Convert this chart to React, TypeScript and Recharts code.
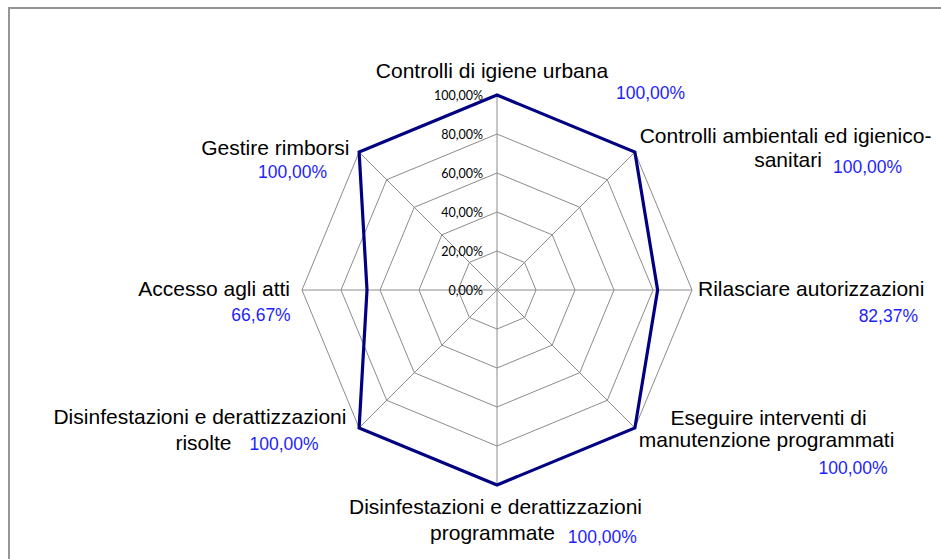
import React from 'react';
import { RadarChart, Radar, PolarGrid, PolarAngleAxis, PolarRadiusAxis } from 'recharts';

const categories = [
  'Controlli di igiene urbana',
  'Controlli ambientali ed igienico-sanitari',
  'Rilasciare autorizzazioni',
  'Eseguire interventi di manutenzione programmati',
  'Disinfestazioni e derattizzazioni programmate',
  'Disinfestazioni e derattizzazioni risolte',
  'Accesso agli atti',
  'Gestire rimborsi',
];

const categoryLines = [
  ['Controlli di igiene urbana'],
  ['Controlli ambientali ed igienico-', 'sanitari'],
  ['Rilasciare autorizzazioni'],
  ['Eseguire interventi di', 'manutenzione programmati'],
  ['Disinfestazioni e derattizzazioni', 'programmate'],
  ['Disinfestazioni e derattizzazioni', 'risolte'],
  ['Accesso agli atti'],
  ['Gestire rimborsi'],
];

const values = [1, 1, 0.8237, 1, 1, 1, 0.6667, 1];

const radiusTicks = [0, 0.2, 0.4, 0.6, 0.8, 1];

const data = categories.map((name, i) => ({ name, value: values[i] }));

const fmt = (v: number) => (v * 100).toFixed(2).replace('.', ',') + '%';

type Place = [number, number, 'start' | 'middle' | 'end'];

// offsets of the label texts relative to each angle-axis tick point
const namePlaces: Place[][] = [
  [[-5, -9, 'middle']],
  [[145, -3.5, 'middle'], [147.5, 20.5, 'middle']],
  [[-2, 6, 'start']],
  [[128, -8.5, 'middle'], [126, 13, 'middle']],
  [[-1.5, 21.3, 'middle'], [-4.5, 47, 'middle']],
  [[-153.5, -10, 'middle'], [-150, 16, 'middle']],
  [[-4, 6, 'end']],
  [[-4, 8.5, 'end']],
];

const valuePlaces: Place[] = [
  [119, 12, 'start'],
  [192.5, 26.5, 'start'],
  [218, 31.5, 'end'],
  [178, 40, 'start'],
  [70.7, 49.7, 'start'],
  [-104, 16.5, 'start'],
  [-3.3, 31, 'end'],
  [-95.5, 32, 'start'],
];

const AngleTick = (props: any) => {
  const { x, y, index } = props;
  const lines = categoryLines[index];
  const places = namePlaces[index];
  const vp = valuePlaces[index];
  return (
    <g>
      {lines.map((t, k) => (
        <text
          key={k}
          x={x + places[k][0]}
          y={y + places[k][1]}
          textAnchor={places[k][2]}
          fontFamily="'Liberation Sans', Arial, sans-serif"
          fontSize={21}
          fill="#000"
        >
          {t}
        </text>
      ))}
      <text
        x={x + vp[0]}
        y={y + vp[1]}
        textAnchor={vp[2]}
        fontFamily="'Liberation Sans', Arial, sans-serif"
        fontSize={17.5}
        fill="#1e1eff"
      >
        {fmt(values[index])}
      </text>
    </g>
  );
};

const RadiusTick = (props: any) => {
  const { x, y, payload } = props;
  return (
    <text
      x={x - 14}
      y={y + 5}
      textAnchor="end"
      fontFamily="Lato, 'Open Sans', sans-serif"
      fontSize={12.5}
      fill="#000"
    >
      {fmt(payload.value)}
    </text>
  );
};

export default function App() {
  return (
    <div
      style={{
        position: 'fixed',
        left: 8,
        top: 7,
        width: 950,
        height: 570,
        border: '2px solid #959595',
        background: '#fff',
      }}
    >
      <RadarChart
        width={950}
        height={570}
        data={data}
        cx={487}
        cy={281}
        outerRadius={195}
        startAngle={90}
        endAngle={-270}
      >
        <PolarGrid gridType="polygon" stroke="#8c8c8c" strokeWidth={1} />
        <PolarAngleAxis
          dataKey="name"
          tick={AngleTick}
          tickLine={false}
          axisLine={false}
        />
        <PolarRadiusAxis
          angle={90}
          domain={[0, 1]}
          ticks={radiusTicks as any}
          tickCount={6}
          tick={RadiusTick}
          axisLine={false}
          tickLine={false}
        />
        <Radar
          dataKey="value"
          stroke="#000080"
          strokeWidth={3.2}
          fill="none"
          fillOpacity={0}
          dot={false}
          isAnimationActive={false}
        />
      </RadarChart>
    </div>
  );
}
